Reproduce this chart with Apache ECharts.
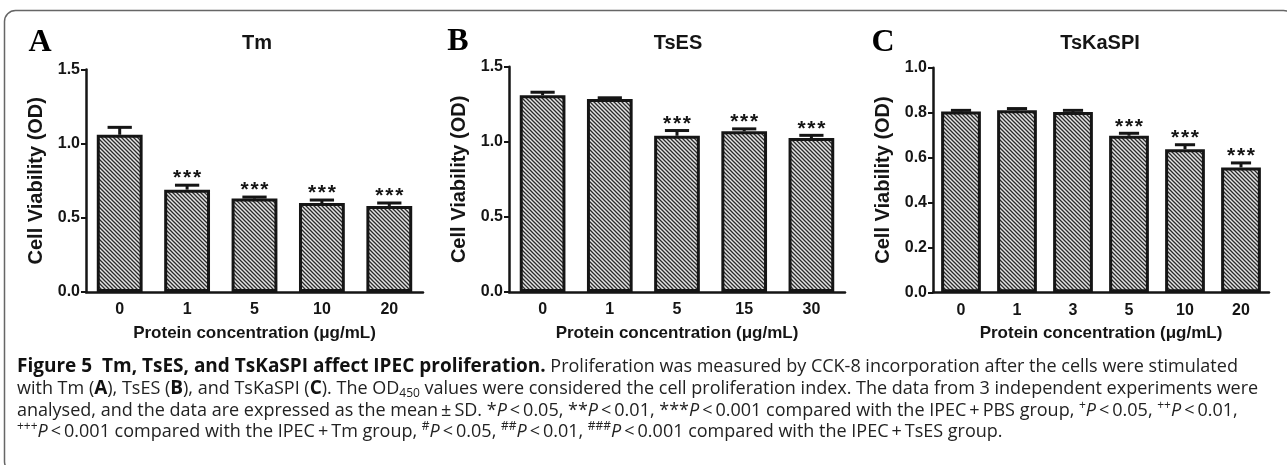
<!DOCTYPE html>
<html><head><meta charset="utf-8">
<script src="https://cdn.jsdelivr.net/npm/echarts@6/dist/echarts.min.js"></script>
<style>html,body{margin:0;padding:0;background:#fff}#c{width:1287px;height:465px}</style>
</head><body><div id="c"></div>
<script>
// ---- data ----
const catA = ['0', '1', '5', '10', '20'];
const meanA = [1.06, 0.69, 0.63, 0.60, 0.58];
const sdA = [0.05, 0.03, 0.01, 0.02, 0.02];
const sigA = ['', '***', '***', '***', '***'];

const catB = ['0', '1', '5', '15', '30'];
const meanB = [1.31, 1.285, 1.04, 1.07, 1.025];
const sdB = [0.02, 0.008, 0.035, 0.016, 0.018];
const sigB = ['', '', '***', '***', '***'];

const catC = ['0', '1', '3', '5', '10', '20'];
const meanC = [0.805, 0.81, 0.803, 0.697, 0.637, 0.556];
const sdC = [0.005, 0.008, 0.007, 0.011, 0.02, 0.02];
const sigC = ['', '', '', '***', '***', '***'];

const yMax = [1.5, 1.5, 1.0];
const yStep = [0.5, 0.5, 0.2];
const panelTitles = ['Tm', 'TsES', 'TsKaSPI'];
const panelLetters = ['A', 'B', 'C'];
const xAxisName = 'Protein concentration (μg/mL)';
const yAxisName = 'Cell Viability (OD)';

const captionLines = [
  '{b|Figure 5  Tm, TsES, and TsKaSPI affect IPEC proliferation.}{n| Proliferation was measured by CCK-8 incorporation after the cells were stimulated}',
  '{n|with Tm (}{b|A}{n|), TsES (}{b|B}{n|), and TsKaSPI (}{b|C}{n|). The OD}{sub|450}{n| values were considered the cell proliferation index. The data from 3 independent experiments were}',
  '{n|analysed, and the data are expressed as the mean\u2009±\u2009SD. *}{i|P}{n|\u2009<\u20090.05, **}{i|P}{n|\u2009<\u20090.01, ***}{i|P}{n|\u2009<\u20090.001 compared with the IPEC\u2009+\u2009PBS group, }{sup|+}{i|P}{n|\u2009<\u20090.05, }{sup|++}{i|P}{n|\u2009<\u20090.01,}',
  '{sup|+++}{i|P}{n|\u2009<\u20090.001 compared with the IPEC\u2009+\u2009Tm group, }{sup|#}{i|P}{n|\u2009<\u20090.05, }{sup|##}{i|P}{n|\u2009<\u20090.01, }{sup|###}{i|P}{n|\u2009<\u20090.001 compared with the IPEC\u2009+\u2009TsES group.}'
];

// ---- layout ----
const grids = [
  {left: 86, right: 1287 - 423, top: 69.5, bottom: 465 - 292},
  {left: 509, right: 1287 - 845, top: 66.7, bottom: 465 - 292},
  {left: 933, right: 1287 - 1269, top: 67.7, bottom: 465 - 292.3}
];
const barWidths = ['68%', '68%', '71%'];
const titlePos = [[257, 43], [678, 43], [1100, 43]];
const letterPos = [[40, 43], [458, 42], [883, 43]];
const captionY = [367, 389, 411, 432];

const SANS = '"Liberation Sans", Arial, sans-serif';
const SERIF = '"Liberation Serif", "Times New Roman", serif';
const CAP = '"Open Sans", "Noto Sans", sans-serif';
const INK = '#151515';

function hatch() {
  const s = 4, c = document.createElement('canvas');
  c.width = s; c.height = s;
  const g = c.getContext('2d');
  g.fillStyle = '#e4e4e4'; g.fillRect(0, 0, s, s);
  g.strokeStyle = '#2b2b2b'; g.lineWidth = 1.3;
  g.beginPath();
  g.moveTo(-1, -1); g.lineTo(s + 1, s + 1);
  g.moveTo(-1, s - 1); g.lineTo(1, s + 1);
  g.moveTo(s - 1, -1); g.lineTo(s + 1, 1);
  g.stroke();
  return c;
}
const pattern = hatch();

const cats = [catA, catB, catC];
const means = [meanA, meanB, meanC];
const sds = [sdA, sdB, sdC];
const sigs = [sigA, sigB, sigC];

const xAxes = [], yAxes = [], series = [];
for (let k = 0; k < 3; k++) {
  xAxes.push({
    type: 'category', gridIndex: k, data: cats[k],
    axisLine: {lineStyle: {color: INK, width: 2.5}},
    axisTick: {alignWithLabel: true, length: 5, lineStyle: {color: INK, width: 2}},
    axisLabel: {color: INK, fontFamily: SANS, fontWeight: 'bold', fontSize: 16, margin: 10},
    name: xAxisName, nameLocation: 'middle', nameGap: 33,
    nameTextStyle: {color: INK, fontFamily: SANS, fontWeight: 'bold', fontSize: 17}
  });
  yAxes.push({
    type: 'value', gridIndex: k, min: 0, max: yMax[k], interval: yStep[k],
    splitLine: {show: false},
    axisLine: {show: true, lineStyle: {color: INK, width: 2.5}},
    axisTick: {show: true, length: 5, lineStyle: {color: INK, width: 2}},
    axisLabel: {color: INK, fontFamily: SANS, fontWeight: 'bold', fontSize: 16, margin: 6,
      formatter: v => v.toFixed(1)},
    name: yAxisName, nameLocation: 'middle', nameGap: 40, nameRotate: 90,
    nameTextStyle: {color: INK, fontFamily: SANS, fontWeight: 'bold', fontSize: 20}
  });
  series.push({
    type: 'bar', xAxisIndex: k, yAxisIndex: k, data: means[k], barWidth: barWidths[k],
    itemStyle: {color: {image: pattern, repeat: 'repeat'}, borderColor: INK, borderWidth: 3},
    silent: true, z: 2
  });
  const sg = sigs[k];
  series.push({
    type: 'custom', xAxisIndex: k, yAxisIndex: k, z: 5, silent: true,
    data: means[k].map((m, i) => [i, m, sds[k][i]]),
    renderItem(params, api) {
      const i = api.value(0), m = api.value(1), sd = api.value(2);
      const p0 = api.coord([i, m]), p1 = api.coord([i, m + sd]);
      const band = api.size([1, 0])[0];
      const hw = band * 0.18;
      const children = [
        {type: 'line', shape: {x1: p0[0], y1: p0[1], x2: p1[0], y2: p1[1]}, style: {stroke: INK, lineWidth: 3}},
        {type: 'line', shape: {x1: p0[0] - hw, y1: p1[1], x2: p0[0] + hw, y2: p1[1]}, style: {stroke: INK, lineWidth: 3}}
      ];
      const s = sg[params.dataIndex];
      if (s) {
        children.push({type: 'text', x: p0[0], y: p1[1] + 4,
          style: {text: s.split('').join('\u200A'), fill: INK, fontFamily: SANS, fontWeight: 'bold', fontSize: 21,
            align: 'center', verticalAlign: 'bottom'}});
      }
      return {type: 'group', children};
    }
  });
}

const graphic = [
  {type: 'rect', shape: {x: 4.5, y: 10.5, width: 1290, height: 462, r: 11},
   style: {fill: null, stroke: '#666', lineWidth: 1.5}, silent: true}
];
for (let k = 0; k < 3; k++) {
  graphic.push({type: 'text', x: titlePos[k][0], y: titlePos[k][1],
    style: {text: panelTitles[k], fill: INK, fontFamily: SANS, fontWeight: 'bold', fontSize: 20,
      align: 'center', verticalAlign: 'middle'}});
  graphic.push({type: 'text', x: letterPos[k][0], y: letterPos[k][1],
    style: {text: panelLetters[k], fill: '#000', fontFamily: SERIF, fontWeight: 'bold', fontSize: 32,
      align: 'center', verticalAlign: 'middle'}});
}
const FS = 18;
const FB = 19;
const richStyles = {
  n: {fontFamily: CAP, fontSize: FS, fill: '#222', lineHeight: 22},
  b: {fontFamily: CAP, fontSize: FB, fontWeight: 'bold', fill: '#111', lineHeight: 22},
  i: {fontFamily: CAP, fontSize: FS, fontStyle: 'italic', fill: '#222', lineHeight: 22},
  sup: {fontFamily: CAP, fontSize: 12, fill: '#222', lineHeight: 12, verticalAlign: 'top'},
  sub: {fontFamily: CAP, fontSize: 12, fill: '#222', lineHeight: 10, verticalAlign: 'bottom'}
};
captionLines.forEach((t, j) => {
  graphic.push({type: 'text', x: 17, y: captionY[j],
    style: {text: t, rich: richStyles, fontFamily: CAP, fontSize: FS, fill: '#222',
      align: 'left', verticalAlign: 'middle'}});
});

const chart = echarts.init(document.getElementById('c'), null, {renderer: 'canvas'});
chart.setOption({
  animation: false,
  backgroundColor: '#fff',
  grid: grids.map(g => Object.assign({outerBoundsMode: 'none'}, g)),
  xAxis: xAxes, yAxis: yAxes, series, graphic
});
</script></body></html>
